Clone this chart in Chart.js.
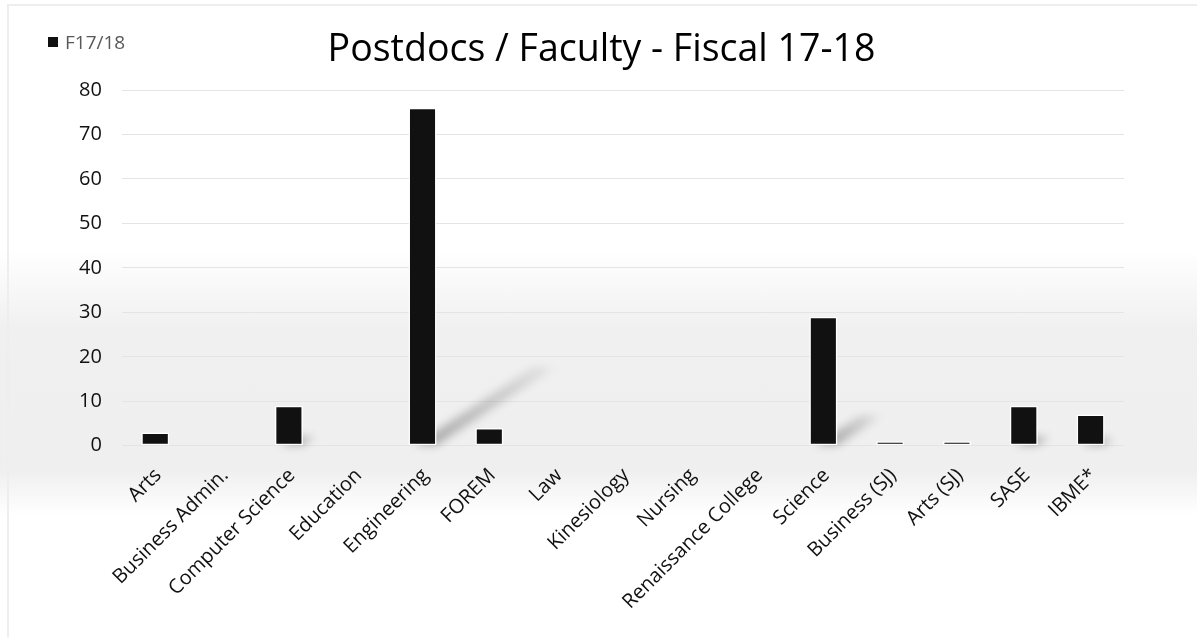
<!DOCTYPE html>
<html>
<head>
<meta charset="utf-8">
<script src="https://cdn.jsdelivr.net/npm/chart.js@4.4.1/dist/chart.umd.min.js"></script>
<style>
  html, body { margin: 0; padding: 0; background: #fff; }
  #wrap {
    position: relative; width: 1197px; height: 637px; overflow: hidden;
    background: linear-gradient(to bottom, #ffffff 0px, #ffffff 250px, #f0f0f0 330px, #efefef 470px, #ffffff 515px, #ffffff 637px);
  }
  #frame { position: absolute; left: 7px; top: 4px; right: -4px; bottom: -4px; border-top: 2px solid #eeeeee; border-left: 2px solid #eeeeee; pointer-events: none; }
  #legend { position: absolute; left: 48px; top: 29px; font-family: "Open Sans", sans-serif; font-size: 19px; color: #595959; display: flex; align-items: center; }
  #legend .box { width: 10px; height: 10px; margin-right: 7px; }
  canvas { position: absolute; left: 0; top: 0; }
</style>
</head>
<body>
<div id="wrap">
  <canvas id="c" width="1197" height="637"></canvas>
  <div id="frame"></div>
  <div id="legend"></div>
</div>
<script>
const categories = ["Arts", "Business Admin.", "Computer Science", "Education", "Engineering", "FOREM", "Law", "Kinesiology", "Nursing", "Renaissance College", "Science", "Business (SJ)", "Arts (SJ)", "SASE", "IBME*"];
const seriesLabel = "F17/18";
const seriesValues = [3, 0, 9, 0, 76, 4, 0, 0, 0, 0, 29, 1, 1, 9, 7];
const yTicks = [0, 10, 20, 30, 40, 50, 60, 70, 80];
const chartTitle = "Postdocs / Faculty - Fiscal 17-18";
const barColor = "#111111";

// soft floor shadows behind the bars (projected from each bar element)
const shadowPlugin = {
  id: 'floorShadow',
  beforeDatasetsDraw(chart) {
    const ctx = chart.ctx;
    const meta = chart.getDatasetMeta(0);
    ctx.save();
    ctx.filter = 'blur(4px)';
    meta.data.forEach(bar => {
      const p = bar.getProps(['x', 'y', 'base', 'width'], true);
      const h = p.base - p.y;
      if (h < 20) return;
      const x0 = p.x - p.width / 2, x1 = p.x + p.width / 2;
      const dx = 0.35 * h, dy = 0.23 * h;
      const g = ctx.createLinearGradient(x1, p.base, x1 + dx, p.base - dy);
      g.addColorStop(0, 'rgba(0,0,0,0.28)');
      g.addColorStop(1, 'rgba(0,0,0,0.05)');
      ctx.fillStyle = g;
      ctx.beginPath();
      ctx.moveTo(x0 + 6, p.base);
      ctx.lineTo(x1, p.base);
      ctx.lineTo(x1 + dx, p.base - dy);
      ctx.lineTo(x0 + 6 + dx, p.base - dy);
      ctx.closePath();
      ctx.fill();
    });
    ctx.restore();
  }
};

const chart = new Chart(document.getElementById('c'), {
  type: 'bar',
  data: {
    labels: categories,
    datasets: [{
      label: seriesLabel,
      data: seriesValues,
      backgroundColor: barColor,
      borderColor: '#ffffff',
      borderWidth: 1.5,
      borderSkipped: false,
      barPercentage: 0.42,
      categoryPercentage: 1.0
    }]
  },
  options: {
    responsive: false,
    animation: false,
    devicePixelRatio: 1,
    layout: { padding: { left: 79, right: 73, top: 0, bottom: 5 } },
    plugins: {
      legend: { display: false },
      tooltip: { enabled: false },
      title: {
        display: true,
        text: chartTitle,
        color: '#000000',
        font: { family: '"Open Sans", sans-serif', size: 37.5, weight: 'normal' },
        padding: { top: 28, bottom: 17 }
      }
    },
    scales: {
      x: {
        grid: { display: false, drawTicks: false },
        border: { display: false },
        afterFit(axis) { axis.paddingLeft = 0; axis.paddingRight = 0; },
        ticks: {
          color: '#111111',
          font: { family: '"Open Sans", sans-serif', size: 20 },
          minRotation: 45, maxRotation: 45,
          autoSkip: false,
          padding: 18,
          labelOffset: 3
        }
      },
      y: {
        min: 0, max: 80,
        afterBuildTicks(axis) { axis.ticks = yTicks.map(v => ({ value: v })); },
        afterFit(axis) { axis.width -= axis.options.ticks.padding; },
        grid: { color: '#e4e4e4', lineWidth: 1, drawTicks: false },
        border: { display: false },
        ticks: {
          color: '#111111',
          font: { family: '"Open Sans", sans-serif', size: 20 },
          padding: 20
        }
      }
    }
  },
  plugins: [shadowPlugin]
});

// legend built from the dataset
const lg = document.getElementById('legend');
chart.data.datasets.forEach(ds => {
  const b = document.createElement('span'); b.className = 'box'; b.style.background = ds.backgroundColor;
  const t = document.createElement('span'); t.textContent = ds.label;
  lg.appendChild(b); lg.appendChild(t);
});
</script>
</body>
</html>
